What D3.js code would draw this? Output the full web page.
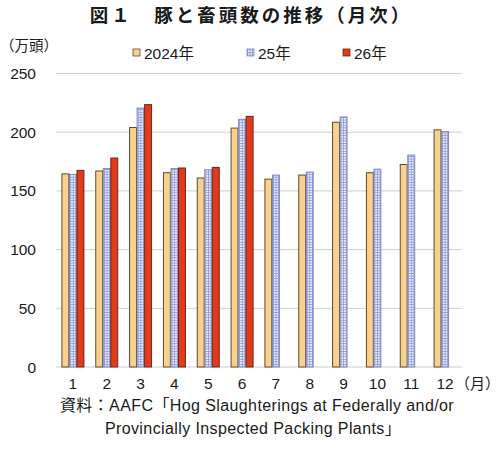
<!DOCTYPE html>
<html>
<head>
<meta charset="utf-8">
<script src="https://cdn.jsdelivr.net/npm/d3@7"></script>
<style>
  body { margin: 0; background: #fff; }
  svg text { font-family: "Liberation Sans", "Noto Sans CJK JP", sans-serif; fill: #1a1a1a; }
  svg text.title { font-family: "Noto Sans CJK JP", sans-serif; }
</style>
</head>
<body>
<div id="chart"></div>
<script>
var months = ['1', '2', '3', '4', '5', '6', '7', '8', '9', '10', '11', '12'];
var seriesNames = ['2024年', '25年', '26年'];
var y2024 = [164.5, 167, 204, 165.5, 161, 203.5, 160, 163.5, 208.5, 165.5, 172.5, 202];
var y2025 = [164, 169, 220.5, 169, 168, 211, 163.5, 166, 213, 168.5, 180.5, 200.5];
var y2026 = [167.5, 178, 223.5, 169.5, 170, 213.5, null, null, null, null, null, null];
var yTicks = [0, 50, 100, 150, 200, 250];

var width = 500, height = 451;

var svg = d3.select('#chart').append('svg')
  .attr('width', width)
  .attr('height', height);

// blue grid pattern for 25年
var defs = svg.append('defs');
var pat = defs.append('pattern')
  .attr('id', 'grid25')
  .attr('patternUnits', 'userSpaceOnUse')
  .attr('width', 2.6)
  .attr('height', 2.6);
pat.append('rect').attr('width', 2.6).attr('height', 2.6).attr('fill', '#f4f5ff');
pat.append('rect').attr('width', 2.6).attr('height', 0.9).attr('fill', '#8f9ad8');
pat.append('rect').attr('width', 0.9).attr('height', 2.6).attr('fill', '#8f9ad8');

var styles = [
  { fill: '#f9d18f', stroke: '#5e4b2c' },
  { fill: 'url(#grid25)', stroke: '#7f88b8' },
  { fill: '#e13b1c', stroke: '#6e2414' }
];

var x = d3.scaleBand().domain(months).range([56, 462]).padding(0);
var x1 = d3.scaleBand().domain(seriesNames)
  .range([x.bandwidth() / 2 - 11, x.bandwidth() / 2 + 11])
  .paddingInner(0.08);
var y = d3.scaleLinear().domain([0, 250]).range([367, 73.5]);

// title
svg.append('text')
  .attr('class', 'title')
  .attr('x', 251)
  .attr('y', 22)
  .attr('text-anchor', 'middle')
  .style('font-size', '18.5px')
  .style('font-weight', 'bold')
  .style('letter-spacing', '3px')
  .text('図１　豚と畜頭数の推移（月次）');

// unit
svg.append('text')
  .attr('x', 0)
  .attr('y', 51)
  .style('font-size', '14.5px')
  .text('（万頭）');

// gridlines
svg.append('g')
  .selectAll('line')
  .data(yTicks)
  .join('line')
  .attr('x1', 56)
  .attr('x2', 462)
  .attr('y1', function (d) { return y(d); })
  .attr('y2', function (d) { return y(d); })
  .attr('stroke', '#cfcfcf')
  .attr('stroke-width', 1);

// y labels
svg.append('g')
  .selectAll('text')
  .data(yTicks)
  .join('text')
  .attr('x', 36)
  .attr('y', function (d) { return y(d) + 5.5; })
  .attr('text-anchor', 'end')
  .style('font-size', '15.5px')
  .text(function (d) { return d; });

// bars
var allSeries = [y2024, y2025, y2026];
allSeries.forEach(function (vals, si) {
  svg.append('g')
    .selectAll('rect')
    .data(months.map(function (m, i) { return { m: m, v: vals[i] }; }).filter(function (d) { return d.v != null; }))
    .join('rect')
    .attr('x', function (d) { return x(d.m) + x1(seriesNames[si]); })
    .attr('y', function (d) { return y(d.v); })
    .attr('width', x1.bandwidth())
    .attr('height', function (d) { return y(0) - y(d.v); })
    .attr('fill', styles[si].fill)
    .attr('stroke', styles[si].stroke)
    .attr('stroke-width', 1);
});

// x labels
svg.append('g')
  .selectAll('text')
  .data(months)
  .join('text')
  .attr('x', function (d) { return x(d) + x.bandwidth() / 2; })
  .attr('y', 389)
  .attr('text-anchor', 'middle')
  .style('font-size', '15.5px')
  .text(function (d) { return d; });

svg.append('text')
  .attr('x', 500)
  .attr('y', 389)
  .attr('text-anchor', 'end')
  .style('font-size', '15px')
  .text('（月）');

// legend
var legendX = [133, 247, 343];
var leg = svg.append('g');
seriesNames.forEach(function (name, i) {
  leg.append('rect')
    .attr('x', legendX[i])
    .attr('y', 49)
    .attr('width', 7)
    .attr('height', 7)
    .attr('fill', styles[i].fill)
    .attr('stroke', styles[i].stroke)
    .attr('stroke-width', 0.8);
  leg.append('text')
    .attr('x', legendX[i] + 11)
    .attr('y', 58.5)
    .style('font-size', '15.5px')
    .text(name);
});

// source
svg.append('text')
  .attr('x', 257)
  .attr('y', 411)
  .attr('text-anchor', 'middle')
  .style('font-size', '16px')
  .style('letter-spacing', '0.4px')
  .text('資料：AAFC「Hog Slaughterings at Federally and/or');
svg.append('text')
  .attr('x', 253)
  .attr('y', 434)
  .attr('text-anchor', 'middle')
  .style('font-size', '16px')
  .style('letter-spacing', '0.4px')
  .text('Provincially Inspected Packing Plants」');
</script>
</body>
</html>
